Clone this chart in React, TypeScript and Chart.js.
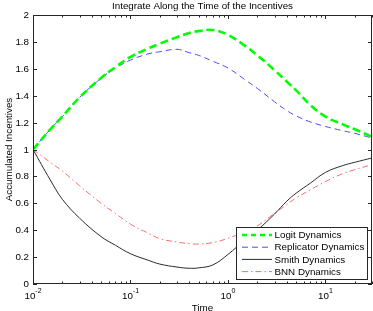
import React, { useEffect, useRef } from 'react';
import { Chart, registerables } from 'chart.js';

Chart.register(...registerables);

// ---- data ----
const times = [0.01, 0.015, 0.02, 0.03, 0.05, 0.07, 0.1, 0.15, 0.2, 0.3, 0.4, 0.5, 0.7, 1, 1.5, 2, 3, 4, 5, 7, 10, 15, 20, 30];
const logit = [1.0, 1.149, 1.245, 1.387, 1.532, 1.612, 1.688, 1.75, 1.787, 1.835, 1.866, 1.88, 1.889, 1.852, 1.77, 1.70, 1.59, 1.505, 1.44, 1.33, 1.245, 1.187, 1.15, 1.095];
const replicator = [1.0, 1.149, 1.245, 1.387, 1.53, 1.605, 1.665, 1.71, 1.727, 1.745, 1.72, 1.70, 1.656, 1.606, 1.518, 1.454, 1.355, 1.29, 1.25, 1.205, 1.171, 1.14, 1.12, 1.085];
const smith = [1.0, 0.775, 0.63, 0.49, 0.352, 0.288, 0.225, 0.178, 0.148, 0.126, 0.117, 0.12, 0.142, 0.22, 0.33, 0.40, 0.52, 0.615, 0.675, 0.75, 0.83, 0.88, 0.905, 0.937];
const bnn = [1.0, 0.905, 0.84, 0.731, 0.60, 0.525, 0.445, 0.38, 0.337, 0.312, 0.30, 0.297, 0.308, 0.34, 0.389, 0.432, 0.525, 0.59, 0.64, 0.70, 0.762, 0.82, 0.85, 0.888];

const seriesNames = ['Logit Dynamics', 'Replicator Dynamics', 'Smith Dynamics', 'BNN Dynamics'];
const yTicks = [0, 0.2, 0.4, 0.6, 0.8, 1, 1.2, 1.4, 1.6, 1.8, 2];
const yTickLabels = ['0', '0.2', '0.4', '0.6', '0.8', '1', '1.2', '1.4', '1.6', '1.8', '2'];
const xDecades = [0.01, 0.1, 1, 10];
const xDecadeExponents = ['-2', '-1', '0', '1'];
const titleText = 'Integrate Along the Time of the Incentives';
const xTitle = 'Time';
const yTitle = 'Accumulated Incentives';

const FONT = '"Liberation Sans", Arial, Helvetica, sans-serif';

const styles = [
  { color: '#00ff00', width: 2.6, dash: [8, 4] },
  { color: '#4a4aff', width: 1, dash: [6, 4] },
  { color: '#2a2a2a', width: 1, dash: [] as number[] },
  { color: '#ff6a6a', width: 1, dash: [6, 3, 1.5, 3] },
];

const decorPlugin = {
  id: 'decor',
  afterDraw(chart: any) {
    const { ctx, chartArea, scales } = chart;
    const { left, right, top, bottom } = chartArea;
    const x = scales.x;
    const y = scales.y;
    ctx.save();
    ctx.strokeStyle = '#262626';
    ctx.lineWidth = 1;
    ctx.setLineDash([]);
    // box
    ctx.strokeRect(left + 0.5, top + 0.5, right - left - 1, bottom - top - 1);

    // y ticks
    ctx.fillStyle = '#000';
    ctx.font = `9.8px ${FONT}`;
    ctx.textAlign = 'right';
    ctx.textBaseline = 'middle';
    yTicks.forEach((v, i) => {
      const py = Math.round(y.getPixelForValue(v)) + 0.5;
      ctx.beginPath();
      ctx.moveTo(left, py);
      ctx.lineTo(left + 4, py);
      ctx.moveTo(right, py);
      ctx.lineTo(right - 4, py);
      ctx.stroke();
      ctx.fillText(yTickLabels[i], left - 4, py);
    });

    // x ticks (major + minor)
    xDecades.forEach((d) => {
      for (let m = 1; m <= 9; m++) {
        const v = d * m;
        if (v > x.max + 1e-9) break;
        const px = Math.round(x.getPixelForValue(v)) + 0.5;
        const len = m === 1 ? 4 : 2.5;
        ctx.beginPath();
        ctx.moveTo(px, bottom);
        ctx.lineTo(px, bottom - len);
        ctx.moveTo(px, top);
        ctx.lineTo(px, top + len);
        ctx.stroke();
      }
    });

    // x tick labels 10^k
    xDecades.forEach((d, i) => {
      const px = x.getPixelForValue(d);
      ctx.font = `9.8px ${FONT}`;
      const wBase = ctx.measureText('10').width;
      ctx.font = `7px ${FONT}`;
      const wExp = ctx.measureText(xDecadeExponents[i]).width;
      const start = px - (wBase + wExp) / 2;
      ctx.textAlign = 'left';
      ctx.textBaseline = 'alphabetic';
      ctx.font = `9.8px ${FONT}`;
      ctx.fillText('10', start, 298.5);
      ctx.font = `7px ${FONT}`;
      ctx.fillText(xDecadeExponents[i], start + wBase, 293);
    });

    // titles
    ctx.font = `9.8px ${FONT}`;
    ctx.textAlign = 'center';
    ctx.textBaseline = 'alphabetic';
    ctx.fillText(titleText, (left + right) / 2, 9);
    ctx.fillText(xTitle, (left + right) / 2, 310.5);
    ctx.save();
    ctx.translate(12, (top + bottom) / 2);
    ctx.rotate(-Math.PI / 2);
    ctx.fillText(yTitle, 0, 0);
    ctx.restore();

    // legend
    const lx = 236, ly = 227, lw = 131, lh = 52;
    ctx.fillStyle = '#fff';
    ctx.fillRect(lx, ly, lw, lh);
    ctx.strokeStyle = '#262626';
    ctx.lineWidth = 1;
    ctx.strokeRect(lx + 0.5, ly + 0.5, lw, lh);
    seriesNames.forEach((name, i) => {
      const ry = 235 + i * 12.2;
      const s = styles[i];
      ctx.save();
      ctx.strokeStyle = s.color;
      ctx.lineWidth = s.width;
      ctx.setLineDash(i === 0 ? [5, 4] : i === 1 ? [6, 4] : s.dash);
      ctx.beginPath();
      ctx.moveTo(242, ry);
      ctx.lineTo(272, ry);
      ctx.stroke();
      ctx.restore();
      ctx.fillStyle = '#000';
      ctx.font = `9.8px ${FONT}`;
      ctx.textAlign = 'left';
      ctx.textBaseline = 'middle';
      ctx.fillText(name, 274.5, ry + 0.5);
    });
    ctx.restore();
  },
};

export default function App() {
  const ref = useRef<HTMLCanvasElement>(null);
  useEffect(() => {
    const canvas = ref.current!;
    const all = [logit, replicator, smith, bnn];
    const chart = new Chart(canvas, {
      type: 'line',
      data: {
        datasets: all.map((arr, i) => ({
          label: seriesNames[i],
          data: times.map((t, k) => ({ x: t, y: arr[k] })),
          borderColor: styles[i].color,
          borderWidth: styles[i].width,
          borderDash: styles[i].dash,
          pointRadius: 0,
          fill: false,
          tension: 0.4,
        })),
      },
      options: {
        responsive: false,
        animation: false,
        devicePixelRatio: 1,
        layout: { padding: { left: 33, right: 1, top: 15, bottom: 27 } },
        plugins: { legend: { display: false }, tooltip: { enabled: false }, title: { display: false } },
        scales: {
          x: { type: 'logarithmic', min: 0.01, max: 30, display: false },
          y: { type: 'linear', min: 0, max: 2, display: false },
        },
      },
      plugins: [decorPlugin],
    });
    return () => chart.destroy();
  }, []);
  return (
    <div style={{ position: 'absolute', left: 0, top: 0, width: 373, height: 311, background: '#fff' }}>
      <canvas ref={ref} width={373} height={311} style={{ display: 'block', width: 373, height: 311 }} />
    </div>
  );
}
